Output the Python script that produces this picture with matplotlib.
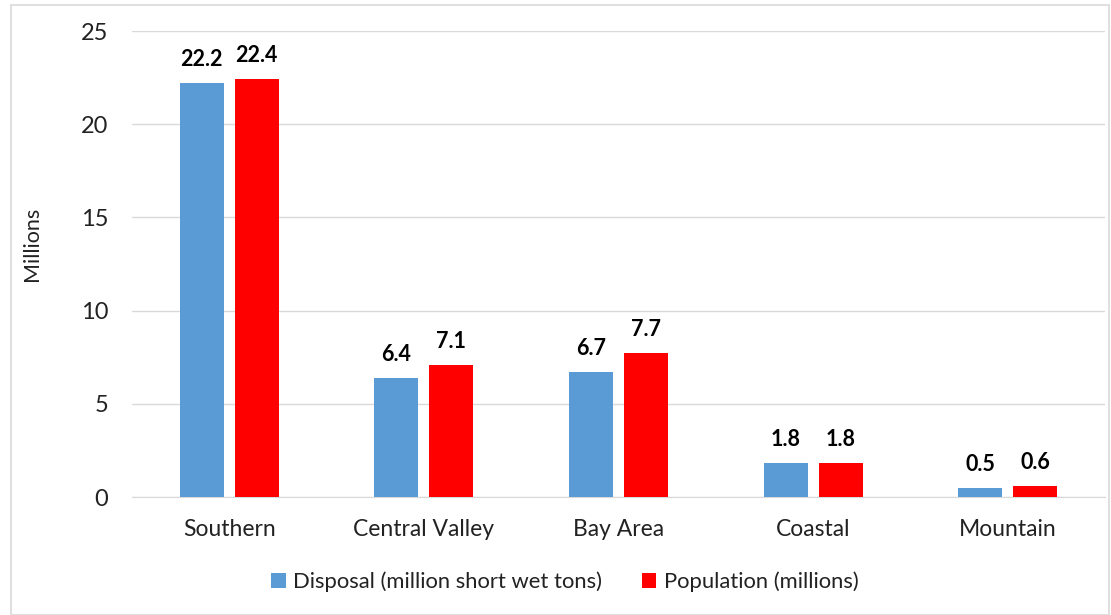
import matplotlib
matplotlib.use("Agg")
import matplotlib.pyplot as plt
from matplotlib.patches import Rectangle
import numpy as np

regions = ["Southern", "Central Valley", "Bay Area", "Coastal", "Mountain"]
disposal = [22.2, 6.4, 6.7, 1.8, 0.5]
population = [22.4, 7.1, 7.7, 1.8, 0.6]
series_names = ["Disposal (million short wet tons)", "Population (millions)"]
yticks = [0, 5, 10, 15, 20, 25]

plt.rcParams["font.family"] = ["Lato", "DejaVu Sans"]

fig = plt.figure(figsize=(11.11, 6.15), dpi=100)
ax = fig.add_axes([132 / 1111, 1 - 497 / 615, (1105 - 132) / 1111, (497 - 31) / 615])

# outer chart border
fig.patches.append(Rectangle((11 / 1111, 0.0), (1109 - 11) / 1111, 1 - 5 / 615,
                             transform=fig.transFigure, fill=False,
                             edgecolor="#d9d9d9", linewidth=1.2))

x = np.arange(len(regions))
w = 0.226
off = 0.141
blue = "#5b9bd5"
red = "#ff0000"
b1 = ax.bar(x - off, disposal, w, color=blue, label=series_names[0], zorder=3)
b2 = ax.bar(x + off, population, w, color=red, label=series_names[1], zorder=3)

for bars, vals in ((b1, disposal), (b2, population)):
    for rect, v in zip(bars, vals):
        ax.text(rect.get_x() + rect.get_width() / 2, v + 0.7, f"{v:.1f}",
                ha="center", va="bottom", fontsize=15.5, fontweight="bold", color="black")

ax.set_xlim(-0.5, len(regions) - 0.5)
ax.set_ylim(0, 25)
ax.set_yticks(yticks)
ax.set_xticks(x)
ax.set_xticklabels(regions)
ax.tick_params(axis="x", length=0, labelsize=16.5, colors="#222222", pad=16)
ax.tick_params(axis="y", length=0, labelsize=17, colors="#222222", pad=17)
ax.grid(axis="y", color="#d9d9d9", linewidth=1.0, zorder=0)
for s in ["top", "right", "left"]:
    ax.spines[s].set_visible(False)
ax.spines["bottom"].set_color("#d9d9d9")
ax.set_ylabel("Millions", fontsize=15.5, color="#222222")
ax.yaxis.set_label_coords(42 / 1111, 1 - 244 / 615, transform=fig.transFigure)

fig.legend(handles=[b1, b2], labels=series_names, loc="center",
           bbox_to_anchor=(565 / 1111, 1 - 582 / 615), ncol=2, frameon=False,
           fontsize=15.8, handlelength=0.65, handleheight=0.65, handletextpad=0.35,
           columnspacing=1.8, labelcolor="#222222")

fig.savefig("out.png", dpi=100)
